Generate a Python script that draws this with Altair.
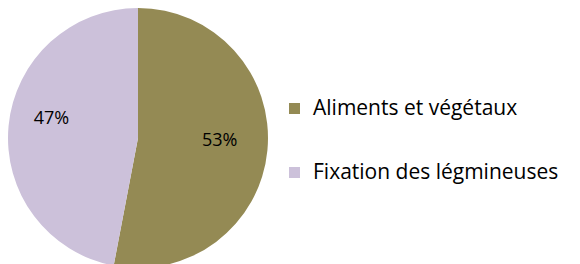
import altair as alt
import pandas as pd

categories = ["Aliments et végétaux", "Fixation des légmineuses"]
values = [53, 47]
labels = ["53%", "47%"]
colors = ["#948A54", "#CCC1DA"]

df = pd.DataFrame({"cat": categories, "val": values, "lab": labels, "order": [0, 1]})

theta_scale = alt.Scale(domain=[0, 100], range=[0, 6.283185307])

arcs = alt.Chart(df).mark_arc(stroke=None).encode(
    theta=alt.Theta("val:Q", stack=True, scale=theta_scale),
    order=alt.Order("order:Q"),
    color=alt.Color(
        "cat:N",
        scale=alt.Scale(domain=categories, range=colors),
        sort=categories,
        legend=alt.Legend(
            title=None,
            orient="none",
            legendX=276,
            legendY=90,
            padding=0,
            symbolType="square",
            symbolSize=121,
            symbolStrokeWidth=0,
            labelFontSize=21,
            labelFont="Open Sans",
            labelColor="#000000",
            labelLimit=400,
            labelOffset=8,
            rowPadding=42,
        ),
    ),
)

text_base = (
    alt.Chart(df)
    .transform_window(cum="sum(val)", sort=[alt.SortField("order")], frame=[None, 0])
    .transform_calculate(mid="datum.cum - datum.val / 2")
    .encode(
        theta=alt.Theta("mid:Q", stack=None, scale=theta_scale),
        text="lab:N",
    )
)

text_a = text_base.mark_text(radius=82, fontSize=18, font="Open Sans", color="#000000", dy=-5).transform_filter(
    alt.datum.order == 0
)
text_b = text_base.mark_text(radius=82, fontSize=18, font="Open Sans", color="#000000", dx=-5, dy=-11).transform_filter(
    alt.datum.order == 1
)

chart = (arcs + text_a + text_b).properties(width=260, height=260, padding=0).configure_view(stroke=None)

chart.save("out.html", embed_options={"renderer": "svg", "actions": False})
